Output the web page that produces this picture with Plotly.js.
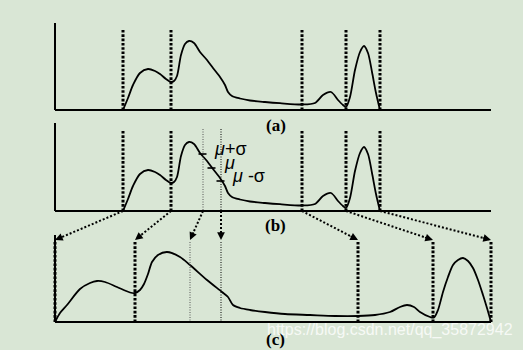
<!DOCTYPE html>
<html><head><meta charset="utf-8">
<script src="https://cdn.plot.ly/plotly-3.0.1.min.js"></script>
<style>html,body{margin:0;padding:0;background:#d9e6d5;}</style>
</head><body><div id="chart" style="width:523px;height:350px;"></div>
<script>
// ---- data (x position along the profile, h = height above baseline) ----
const profileX = [123,128,133,140,148,155,160,166,171,174,177,181,185,189,194,200,207,213,220,225,228,232,240,250,265,280,302,315,323,331,338,343,346,350,355,360,364,368,372,376,380];
const profileH = [0,12,25,37,41,39,36,31,28,29,34,55,66,69,67,58,50,42,33,25,18,14,11.5,9.5,8,6.8,5.5,7,15,18,10,5,3,13,40,58,64,57,38,17,0];
const stretchedX = [55,60,67,80,90,97,105,117,130,135,140,144,148,152,158,167,180,190,207,222,228,233,240,250,265,285,310,335,358,375,390,400,407,414,420,430,434,438,443,448,453,458,463,468,473,478,483,487,491];
const stretchedH = [0,9,17,33,39,41,40,35,29.5,29,32,38,48,60,67,70,65,57,42,30,25,17,14,12,10,8,7,6,6,7,10,15,17,15,10,5,4.5,12,30,45,57,62,64,61,54,42,27,14,0];
const segmentBounds = [123,171,302,346,380];
const stretchedBounds = [55,135,358,433,491];
const meanBandX = [203,221];
const stretchedMeanBandX = [190,221];
const statLabels = ['<i>μ</i>+σ','<i>μ</i>','<i>μ</i> -σ'];
const statX = [202.5,211.5,220.5];
const statH = [57,43,30];
const panelLabels = ['(a)','(b)','(c)'];

// ---- layout geometry ----
const panels = [{base:110, top:23, lab:125}, {base:211, top:123, lab:225}, {base:322, top:235, lab:339}];
const xStart = 55, xEnd = 491, boundTop = 80, bandTop = 82;
const bg = '#d9e6d5';

const traces = [];
const shapes = [];
const ann = [];

function line(x0,y0,x1,y1,w,dash,color){
  shapes.push({type:'line',xref:'x',yref:'y',x0:x0,y0:y0,x1:x1,y1:y1,
    line:{color:color||'#000',width:w,dash:dash||'solid'}});
}

panels.forEach((p,i)=>{
  line(xStart,p.top,xStart,p.base,2);
  line(xStart,p.base,xEnd,p.base,2);
  const xs = i<2 ? profileX : stretchedX;
  const hs = i<2 ? profileH : stretchedH;
  traces.push({x:xs, y:hs.map(h=>p.base-h), type:'scatter', mode:'lines',
    line:{color:'#000',width:1.8,shape:'spline',smoothing:0.8}, hoverinfo:'skip'});
  const b = i<2 ? segmentBounds : stretchedBounds;
  b.forEach(x=>line(x,p.base-boundTop,x,p.base,3,'2.6px,1.7px'));
  ann.push({x:275.5,y:p.lab,xref:'x',yref:'y',text:'<b>'+panelLabels[i]+'</b>',showarrow:false,
    font:{family:'Times New Roman, Liberation Serif, serif',size:17,color:'#000'}});
});

// mean / sigma band in (b)
const pb = panels[1], pc = panels[2];
meanBandX.forEach((x,k)=>line(x,pb.base-bandTop,x,pb.base,1,'1px,1.5px', k===0?'#555':'#000'));
stretchedMeanBandX.forEach((x,k)=>line(x,pc.base-boundTop,x,pc.base,1,'1px,1.5px', k===0?'#555':'#000'));
statX.forEach((x,k)=>{
  line(x-4,pb.base-statH[k],x+4,pb.base-statH[k],1.6);
  ann.push({x:x+(k===1?10:9.5),y:pb.base-statH[k]-5,xref:'x',yref:'y',text:statLabels[k],showarrow:false,
    xanchor:'left',yanchor:'middle',font:{family:'Liberation Sans',size:18,color:'#000'}});
});

// connectors (b) -> (c)
const starts = segmentBounds.slice(0,2).concat(meanBandX, segmentBounds.slice(2));
const ends = stretchedBounds.slice(0,2).concat(stretchedMeanBandX, stretchedBounds.slice(2));
starts.forEach((sx,k)=>{
  const sy = pb.base, ex = ends[k], ey = 240;
  const dx = ex-sx, dy = ey-sy, L = Math.hypot(dx,dy), ux = dx/L, uy = dy/L;
  line(sx,sy,ex-ux*5,ey-uy*5,2,'2px,2px');
  ann.push({x:ex,y:ey,xref:'x',yref:'y',ax:-ux*10,ay:-uy*10,text:'',showarrow:true,
    arrowhead:2,arrowsize:1.1,arrowwidth:1.4,arrowcolor:'#000',standoff:0});
});

// watermark
ann.push({x:390,y:330,xref:'x',yref:'y',text:'https://blog.csdn.net/qq_35872942',showarrow:false,
  font:{family:'Liberation Sans',size:16,color:'rgba(255,255,255,0.8)'}});

Plotly.newPlot('chart', traces, {
  width:523, height:350, margin:{l:0,r:0,t:0,b:0},
  paper_bgcolor:bg, plot_bgcolor:bg, showlegend:false,
  xaxis:{range:[0,523],visible:false,fixedrange:true},
  yaxis:{range:[350,0],visible:false,fixedrange:true},
  shapes:shapes, annotations:ann
}, {displayModeBar:false, staticPlot:true});
</script></body></html>
